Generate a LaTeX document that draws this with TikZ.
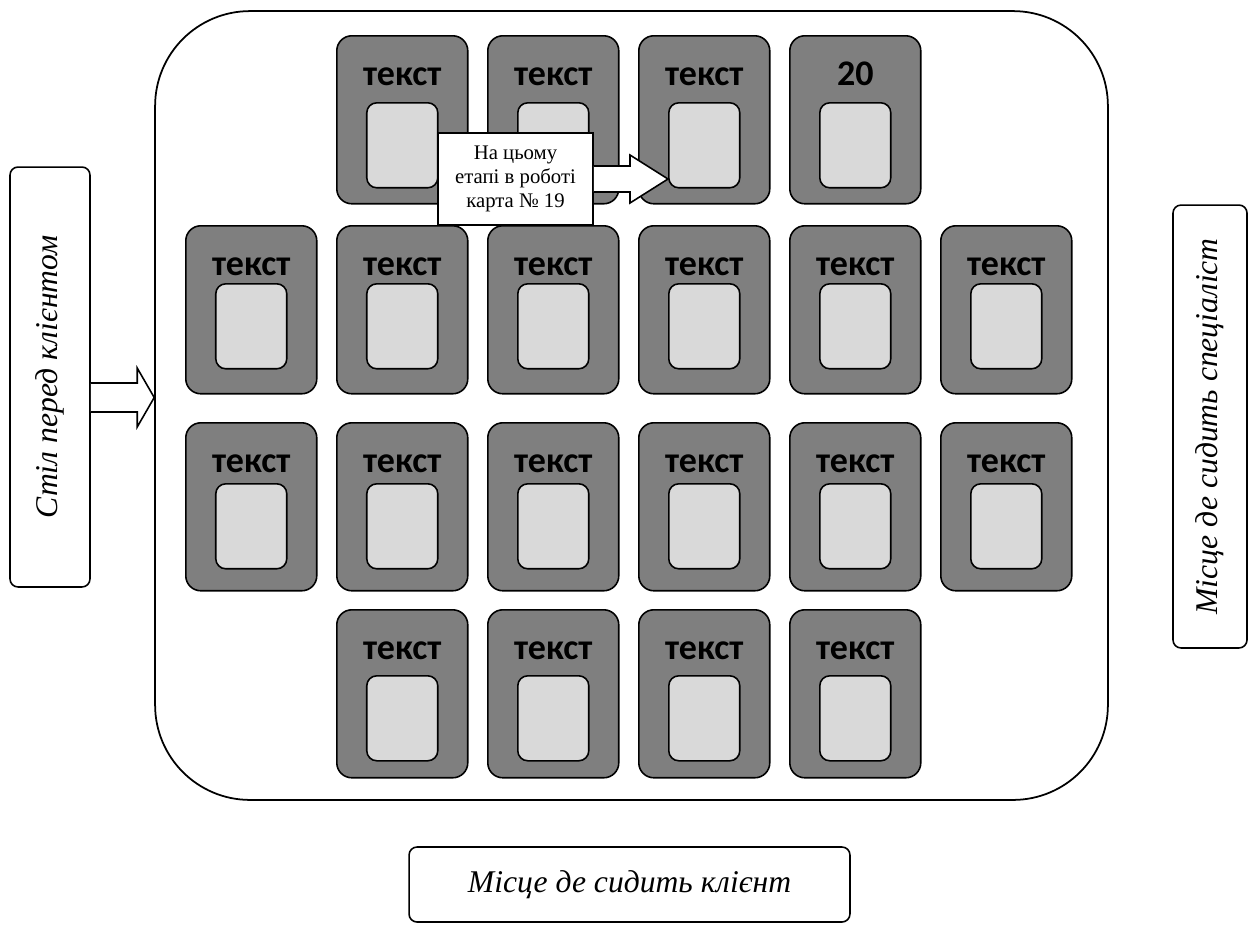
\documentclass[tikz,border=0pt]{standalone}
\usepackage{fontspec}
\setmainfont{Liberation Serif}
\newfontfamily\cardfont{Carlito}
\usepackage{tikz}
\usetikzlibrary{positioning,calc}
\definecolor{cardgray}{HTML}{7F7F7F}
\definecolor{slotgray}{HTML}{D9D9D9}
\tikzset{
  tbl/.style={draw=black, line width=1pt, rounded corners=1.9cm, minimum width=19.06cm, minimum height=15.78cm},
  sidebox/.style={draw=black, line width=0.9pt, rounded corners=0.16cm, inner sep=0pt, font=\itshape\fontsize{18}{20}\selectfont},
  card/.style={draw=black, fill=cardgray, line width=0.9pt, rounded corners=0.3cm, minimum width=2.62cm, minimum height=3.36cm, anchor=north west},
  slot/.style={draw=black, fill=slotgray, line width=0.9pt, rounded corners=0.2cm, minimum width=1.42cm, minimum height=1.7cm, anchor=north},
  cardtxt/.style={font=\fontsize{20.5}{21}\selectfont\cardfont\bfseries, anchor=base, inner sep=0pt},
  note/.style={draw=black, fill=white, line width=0.9pt, minimum width=3.1cm, minimum height=1.84cm, align=center, inner sep=1pt, font=\fontsize{11.8}{13.8}\selectfont},
  blockarr/.style={draw=black, fill=white, line width=0.9pt, line join=miter}
}

\begin{document}
\begin{tikzpicture}[x=0.02cm, y=-0.02cm]
  \useasboundingbox (0,0) rectangle (1250,924);

  % Table with the cards on it
  \node[tbl] (table) at (631.5,405.5) {};

  % Labels round the table
  \node[sidebox, rotate=90, minimum width=8.4cm, minimum height=1.6cm] (lbox) at (50,377) {Стіл перед клієнтом};
  \node[sidebox, rotate=90, minimum width=8.86cm, minimum height=1.48cm] (rbox) at (1210,426.5) {Місце де сидить спеціаліст};
  \node[sidebox, minimum width=8.82cm, minimum height=1.5cm] (bbox) at (629.5,884.5) {Місце де сидить клієнт};

  % Hollow arrow from the client's table
  \coordinate (ltip) at ($(table.west)+(0,-8)$);
  \draw[blockarr] ($(lbox.south |- ltip)+(0,-14.5)$) -- ($(ltip)+(-17,-14.5)$) -- ($(ltip)+(-17,-29.5)$)
    -- (ltip) -- ($(ltip)+(-17,29.5)$) -- ($(ltip)+(-17,14.5)$) -- ($(lbox.south |- ltip)+(0,14.5)$);

  % Cards: row / top / slot offset / columns
  \foreach \r/\ytop/\off/\cols in {1/35/67/{2,3,4,5}, 2/225/58/{1,...,6}, 3/422/61/{1,...,6}, 4/609/66/{2,3,4,5}}{
    \foreach \c in \cols{
      \node[card] (card\r\c) at ({34+151*\c},\ytop) {};
      \node[slot] (in\r\c) at ($(card\r\c.north)+(0,\off)$) {};
      \node[cardtxt] (txt\r\c) at ($(card\r\c.north)+(0,50)$) {\ifnum\r\c=15 20\else текст\fi};
    }
  }

  % Note with arrow to the current card
  \node[note] (note) at (515.5,179) {На цьому\\етапі в роботі\\карта № 19};
  \coordinate (ntip) at (in14.west |- note.east);
  \draw[blockarr] ($(note.east)+(0,-13)$) -- ($(ntip)+(-38,-13)$) -- ($(ntip)+(-38,-24)$)
    -- (ntip) -- ($(ntip)+(-38,24)$) -- ($(ntip)+(-38,13)$) -- ($(note.east)+(0,13)$);
\end{tikzpicture}
\end{document}
